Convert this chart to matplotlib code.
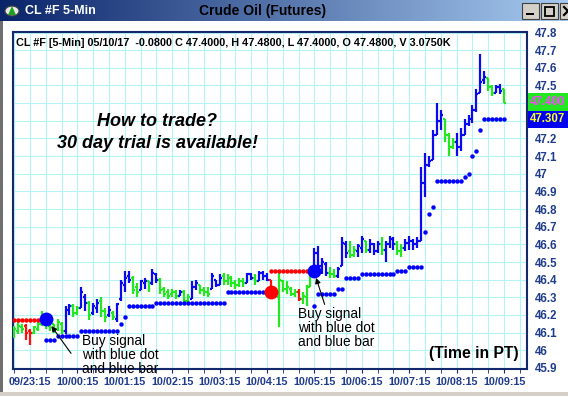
import matplotlib
matplotlib.use('Agg')
import matplotlib.pyplot as plt
import numpy as np
from matplotlib.patches import Rectangle, Circle, Polygon
from matplotlib.collections import LineCollection
from matplotlib.lines import Line2D

plt.rcParams['font.family'] = ['Liberation Sans', 'DejaVu Sans']

# ---------------- data ----------------
first_bar = -4   # bar index of first bar (0 = 09/23:15)
highs = [46.14, 46.16, 46.15, 46.15, 46.12, 46.14, 46.16, 46.22, 46.19, 46.17,
         46.15, 46.18, 46.16, 46.25, 46.26, 46.26, 46.25, 46.36, 46.32, 46.28,
         46.27, 46.29, 46.30, 46.24, 46.25, 46.22, 46.27, 46.40, 46.45, 46.45,
         46.42, 46.38, 46.40, 46.41, 46.39, 46.46, 46.44, 46.41, 46.36, 46.35,
         46.35, 46.34, 46.34, 46.34, 46.32, 46.39, 46.40, 46.37, 46.36, 46.36,
         46.44, 46.40, 46.43, 46.44, 46.43, 46.42, 46.40, 46.41, 46.41, 46.44,
         46.44, 46.43, 46.45, 46.45, 46.44, 46.40, 46.36, 46.44, 46.40, 46.39,
         46.36, 46.35, 46.35, 46.33, 46.37, 46.45, 46.58, 46.59, 46.52, 46.50,
         46.47, 46.46, 46.47, 46.64, 46.62, 46.62, 46.59, 46.60, 46.65, 46.62,
         46.63, 46.61, 46.62, 46.64, 46.62, 46.65, 46.64, 46.62, 46.60, 46.63,
         46.65, 46.63, 46.64, 47.04, 47.12, 47.10, 47.25, 47.40, 47.36, 47.31,
         47.23, 47.20, 47.23, 47.26, 47.31, 47.33, 47.39, 47.48, 47.68, 47.58,
         47.54, 47.50, 47.50, 47.51, 47.48]
lows = [46.07, 46.09, 46.10, 46.06, 46.03, 46.09, 46.11, 46.14, 46.12, 46.11,
        46.10, 46.11, 46.09, 46.09, 46.20, 46.19, 46.20, 46.24, 46.22, 46.17,
        46.20, 46.21, 46.19, 46.16, 46.19, 46.17, 46.16, 46.28, 46.33, 46.38,
        46.32, 46.30, 46.34, 46.35, 46.33, 46.37, 46.38, 46.32, 46.30, 46.29,
        46.30, 46.29, 46.31, 46.26, 46.26, 46.29, 46.34, 46.32, 46.31, 46.30,
        46.35, 46.36, 46.37, 46.37, 46.37, 46.36, 46.35, 46.36, 46.36, 46.38,
        46.40, 46.37, 46.39, 46.40, 46.39, 46.34, 46.30, 46.13, 46.33, 46.32,
        46.31, 46.30, 46.28, 46.26, 46.25, 46.36, 46.44, 46.45, 46.43, 46.42,
        46.41, 46.41, 46.41, 46.48, 46.52, 46.52, 46.53, 46.53, 46.55, 46.55,
        46.55, 46.54, 46.55, 46.54, 46.50, 46.58, 46.57, 46.54, 46.53, 46.56,
        46.57, 46.57, 46.58, 46.62, 46.87, 47.04, 47.08, 47.22, 47.25, 47.18,
        47.10, 47.14, 47.10, 47.13, 47.22, 47.27, 47.29, 47.35, 47.46, 47.51,
        47.47, 47.44, 47.46, 47.45, 47.40]
opens = [46.08, 46.11, 46.13, 46.14, 46.11, 46.10, 46.12, 46.15, 46.18, 46.14,
         46.15, 46.12, 46.15, 46.11, 46.22, 46.25, 46.21, 46.24, 46.30, 46.27,
         46.21, 46.24, 46.28, 46.22, 46.20, 46.21, 46.18, 46.29, 46.37, 46.42,
         46.41, 46.36, 46.34, 46.38, 46.39, 46.38, 46.43, 46.40, 46.35, 46.33,
         46.32, 46.33, 46.31, 46.33, 46.28, 46.29, 46.36, 46.37, 46.34, 46.33,
         46.35, 46.40, 46.37, 46.42, 46.39, 46.41, 46.38, 46.37, 46.39, 46.38,
         46.43, 46.41, 46.39, 46.44, 46.42, 46.40, 46.35, 46.30, 46.39, 46.35,
         46.35, 46.32, 46.33, 46.29, 46.30, 46.36, 46.45, 46.55, 46.48, 46.49,
         46.44, 46.43, 46.42, 46.48, 46.60, 46.56, 46.54, 46.56, 46.58, 46.62,
         46.57, 46.60, 46.56, 46.60, 46.57, 46.60, 46.63, 46.60, 46.56, 46.58,
         46.61, 46.62, 46.60, 46.62, 46.95, 47.05, 47.08, 47.22, 47.30, 47.31,
         47.22, 47.15, 47.18, 47.15, 47.22, 47.28, 47.30, 47.36, 47.46, 47.53,
         47.54, 47.49, 47.46, 47.49, 47.48]
closes = [46.12, 46.14, 46.12, 46.10, 46.10, 46.13, 46.15, 46.19, 46.15, 46.16,
          46.12, 46.16, 46.11, 46.23, 46.25, 46.21, 46.24, 46.33, 46.27, 46.20,
          46.25, 46.27, 46.22, 46.19, 46.23, 46.19, 46.26, 46.38, 46.41, 46.40,
          46.34, 46.33, 46.39, 46.39, 46.35, 46.44, 46.40, 46.34, 46.32, 46.31,
          46.33, 46.31, 46.33, 46.28, 46.30, 46.36, 46.38, 46.34, 46.33, 46.32,
          46.42, 46.37, 46.41, 46.39, 46.41, 46.38, 46.37, 46.39, 46.38, 46.43,
          46.41, 46.39, 46.44, 46.42, 46.40, 46.35, 46.32, 46.40, 46.35, 46.36,
          46.32, 46.33, 46.29, 46.31, 46.36, 46.44, 46.55, 46.48, 46.50, 46.44,
          46.43, 46.42, 46.46, 46.61, 46.55, 46.54, 46.57, 46.59, 46.63, 46.57,
          46.60, 46.56, 46.60, 46.57, 46.60, 46.63, 46.60, 46.56, 46.58, 46.61,
          46.62, 46.60, 46.62, 46.95, 47.05, 47.07, 47.22, 47.30, 47.33, 47.22,
          47.15, 47.18, 47.15, 47.22, 47.28, 47.31, 47.36, 47.45, 47.52, 47.55,
          47.49, 47.46, 47.49, 47.47, 47.40]
states = ("gggrrggggg" "gggbbggbbg" "bbggbgbbbb" "ggbbgbbggg" "ggbggbbggg"
          "bbbggggggb" "bgbbbrrggg" "ggrgggbbbb" "ggbbbggbbg" "bbbgbbbggb"
          "bbbbbbbbbg" "ggbbbbbbbb" "ggbbg")

# trailing stop dots (bar index, price)
support_idx = list(range(4, 60)) + list(range(72, 121))
support_val = ([46.06] * 3 + [46.08] * 6 + [46.11] * 10 + [46.15, 46.19] + [46.25] * 7
               + [46.27] * 18 + [46.33] * 10
               + [46.25] + [46.32] * 5 + [46.35] * 2 + [46.41] * 4 + [46.43] * 9
               + [46.45] * 3 + [46.47] * 4 + [46.67, 46.77, 46.81] + [46.96] * 7
               + [46.98, 47.00, 47.10, 47.13, 47.25] + [47.31] * 6)
resist_idx = list(range(-4, 4)) + list(range(61, 72))
resist_val = [46.17] * 8 + [46.45] * 11

buy_signals = [(4, 46.175), (72, 46.45)]
sell_signals = [(61, 46.33)]

x_tick_pos = [0, 12, 24, 36, 48, 60, 72, 84, 96, 108, 120]
x_tick_labels = ["09/23:15", "10/00:15", "10/01:15", "10/02:15", "10/03:15", "10/04:15",
                 "10/05:15", "10/06:15", "10/07:15", "10/08:15", "10/09:15"]
y_ticks = [45.9, 46.0, 46.1, 46.2, 46.3, 46.4, 46.5, 46.6, 46.7, 46.8, 46.9,
           47.0, 47.1, 47.2, 47.3, 47.4, 47.5, 47.6, 47.7, 47.8]
y_tick_labels = ["45.9", "46", "46.1", "46.2", "46.3", "46.4", "46.5", "46.6", "46.7",
                 "46.8", "46.9", "47", "47.1", "47.2", "", "", "47.5", "47.6", "47.7", "47.8"]
last_price = "47.400"
stop_price = "47.307"
header = "CL #F [5-Min] 05/10/17  -0.0800 C 47.4000, H 47.4800, L 47.4000, O 47.4800, V 3.0750K"

# ---------------- figure ----------------
W, H = 568, 396
fig = plt.figure(figsize=(W / 100, H / 100), dpi=100)
fig.patch.set_facecolor('white')

def fx(x):
    return x / W

def fy(y):
    return 1 - y / H

# title bar gradient
tb = fig.add_axes([0, fy(21), 1, 21 / H])
tb.set_axis_off()
c1 = np.array([0x0a, 0x24, 0x6a]) / 255
c2 = np.array([0xa6, 0xca, 0xf0]) / 255
t = np.linspace(0, 1, 256)[None, :, None]
grad = c1[None, None, :] * (1 - t) + c2[None, None, :] * t
tb.imshow(grad, aspect='auto', extent=[0, 1, 0, 1])
tb.set_xlim(0, 1)
tb.set_ylim(0, 1)

fig.text(fx(25), fy(11), "CL #F 5-Min", color='white', fontsize=9, fontweight='bold',
         va='center', ha='left')
fig.text(fx(263), fy(11), "Crude Oil (Futures)", color='black', fontsize=10,
         fontweight='bold', va='center', ha='center')
# icon
fig.add_artist(Circle((fx(12), fy(11)), 7 / W, transform=fig.transFigure,
                      facecolor='#e8e8e8', edgecolor='#404040', lw=0.8))
fig.add_artist(Polygon([[fx(8), fy(15)], [fx(16), fy(15)], [fx(12), fy(6)]],
                       closed=True, transform=fig.transFigure, facecolor='#20a020',
                       edgecolor='none'))
# window buttons
for bx in (522, 541, 560):
    fig.add_artist(Rectangle((fx(bx), fy(19)), 17 / W, 16 / H, transform=fig.transFigure,
                             facecolor='#d4d0c8', edgecolor='#404040', lw=0.8))
fig.add_artist(Rectangle((fx(526), fy(15)), 8 / W, 2 / H, transform=fig.transFigure,
                         facecolor='black', edgecolor='none'))
fig.add_artist(Rectangle((fx(545), fy(16)), 9 / W, 9 / H, transform=fig.transFigure,
                         facecolor='none', edgecolor='black', lw=1.3))
fig.add_artist(Line2D([fx(564), fx(572)], [fy(7), fy(15)], transform=fig.transFigure,
                      color='black', lw=1.6))
fig.add_artist(Line2D([fx(564), fx(572)], [fy(15), fy(7)], transform=fig.transFigure,
                      color='black', lw=1.6))

# window borders
fig.add_artist(Rectangle((0, 0), 2.5 / W, fy(21), transform=fig.transFigure,
                         facecolor='#707070', edgecolor='none'))
fig.add_artist(Rectangle((0, 0), 1, 4 / H, transform=fig.transFigure,
                         facecolor='#d4d0c8', edgecolor='none'))

# main axes
ax = fig.add_axes([fx(13), fy(369), 514 / W, 337 / H])
ax.set_xlim(-4.3, 125.8)
ax.set_ylim(45.894, 47.803)
navy = '#14286e'
lblc = '#1f3c8c'
for sp in ax.spines.values():
    sp.set_color(navy)
    sp.set_linewidth(1.5)

ax.set_xticks(x_tick_pos)
ax.set_xticklabels(x_tick_labels)
ax.set_xticks(np.arange(-4, 126, 4), minor=True)
ax.set_yticks(y_ticks)
ax.set_yticklabels(y_tick_labels)
ax.yaxis.tick_right()
ax.tick_params(axis='y', length=0, pad=6, labelsize=8.3, labelcolor=lblc)
ax.tick_params(axis='x', which='both', length=3, color=navy, pad=3, labelsize=7.8,
               labelcolor=lblc)
for lb in ax.get_xticklabels() + ax.get_yticklabels():
    lb.set_fontweight('bold')
ax.grid(True, which='both', color='#b4f4f4', lw=0.8)
ax.set_axisbelow(True)

cmap = {'b': '#0a0af0', 'g': '#22e822', 'r': '#ff1010'}
n = len(highs)
xs = np.arange(first_bar, first_bar + n)
segs, cols = [], []
for i in range(n):
    x = xs[i]
    c = cmap[states[i]]
    segs.append([(x, lows[i]), (x, highs[i])])
    segs.append([(x - 0.5, opens[i]), (x, opens[i])])
    segs.append([(x, closes[i]), (x + 0.5, closes[i])])
    cols += [c, c, c]
ax.add_collection(LineCollection(segs, colors=cols, linewidths=1.6, zorder=3,
                                 capstyle='butt'))

ax.plot(support_idx, support_val, 'o', color='#0000ff', ms=3.2, mew=0, zorder=4)
ax.plot(resist_idx, resist_val, 'o', color='#ff0000', ms=3.2, mew=0, zorder=4)
for (bi, bp) in buy_signals:
    ax.plot(bi, bp, 'o', color='#0000ff', ms=10, mew=0, zorder=6)
for (si, sp_) in sell_signals:
    ax.plot(si, sp_, 'o', color='#ff0000', ms=10, mew=0, zorder=6)

# annotations
ax.annotate("", xy=(5.0, 46.15), xytext=(10.8, 45.97),
            arrowprops=dict(arrowstyle='-|>', color='black', lw=0.8, mutation_scale=8),
            zorder=7)
ax.text(13.2, 46.095, "Buy signal\nwith blue dot\nand blue bar", fontsize=9.8,
        va='top', ha='left', linespacing=1.0, zorder=7, clip_on=False)
ax.annotate("", xy=(72.2, 46.425), xytext=(74.8, 46.245),
            arrowprops=dict(arrowstyle='-|>', color='black', lw=0.8, mutation_scale=8),
            zorder=7)
ax.text(67.8, 46.245, "Buy signal\nwith blue dot\nand blue bar", fontsize=9.8,
        va='top', ha='left', linespacing=1.0, zorder=7)

ax.text(32.2, 47.295, "How to trade?", fontsize=13, fontweight='bold',
        fontstyle='italic', ha='center', va='center')
ax.text(32.2, 47.17, "30 day trial is available!", fontsize=13, fontweight='bold',
        fontstyle='italic', ha='center', va='center')
ax.text(112.4, 45.98, "(Time in PT)", fontsize=11.3, fontweight='bold', ha='center',
        va='center')
ax.text(0.006, 0.967, header, transform=ax.transAxes, fontsize=7.8, fontweight='bold',
        ha='left', va='center')

# price boxes on right
fig.add_artist(Rectangle((fx(528), fy(111)), 40 / W, 18 / H, transform=fig.transFigure,
                         facecolor='#22e822', edgecolor='none'))
fig.text(fx(548), fy(102), last_price, color='#ff40ff', fontsize=8.3, fontweight='bold',
         ha='center', va='center')
fig.add_artist(Rectangle((fx(528), fy(128)), 40 / W, 17 / H, transform=fig.transFigure,
                         facecolor='#0000f0', edgecolor='none'))
fig.text(fx(548), fy(119.5), stop_price, color='#ffff20', fontsize=8.3, fontweight='bold',
         ha='center', va='center')

fig.savefig('out.png', dpi=100)
